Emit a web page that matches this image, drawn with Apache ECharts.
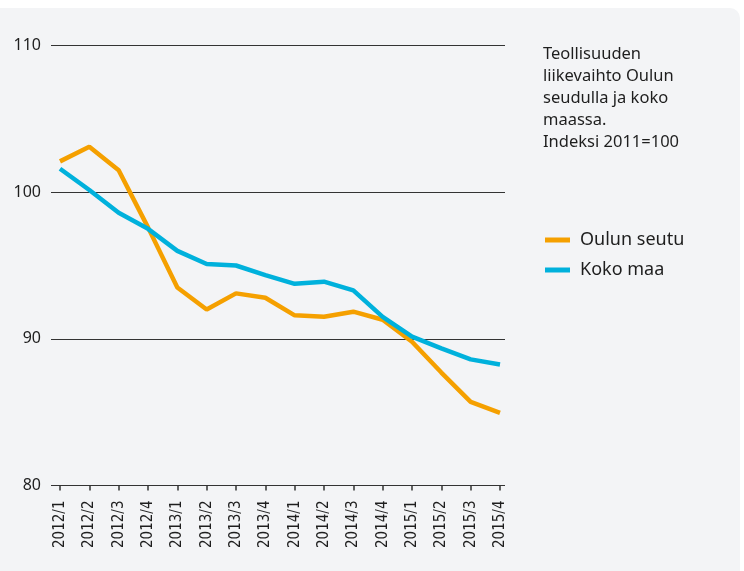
<!DOCTYPE html>
<html>
<head>
<meta charset="utf-8">
<script src="https://cdn.jsdelivr.net/npm/echarts@6/dist/echarts.min.js"></script>
<style>
  html, body { margin: 0; padding: 0; background: #fff; }
  #panel {
    position: absolute; left: 0; top: 8px; width: 740px; height: 563px;
    background: #f3f4f6; border-top-right-radius: 10px;
  }
  #chart { width: 740px; height: 563px; }
</style>
</head>
<body>
<div id="panel"><div id="chart"></div></div>
<script>
// neljännekset
const quarters = ['2012/1', '2012/2', '2012/3', '2012/4', '2013/1', '2013/2', '2013/3', '2013/4',
                  '2014/1', '2014/2', '2014/3', '2014/4', '2015/1', '2015/2', '2015/3', '2015/4'];

// Indeksi 2011=100
const oulunSeutu = [102.1, 103.1, 101.5, 97.6, 93.5, 92.0, 93.1, 92.8,
                    91.6, 91.5, 91.85, 91.3, 89.8, 87.7, 85.7, 84.95];
const kokoMaa = [101.6, 100.15, 98.6, 97.5, 96.0, 95.1, 95.0, 94.35,
                 93.75, 93.9, 93.3, 91.5, 90.15, 89.35, 88.6, 88.25];

const yTicks = [80, 90, 100, 110];

const titleText = 'Teollisuuden\nliikevaihto Oulun\nseudulla ja koko\nmaassa.\nIndeksi 2011=100';

const chart = echarts.init(document.getElementById('chart'));

const textColor = '#1e1e1e';
const lineColor = '#333';

chart.setOption({
  animation: false,
  title: {
    text: titleText,
    left: 543,
    top: 35,
    padding: 0,
    textStyle: {
      fontFamily: 'Noto Sans',
      fontSize: 16.5,
      fontWeight: 'normal',
      color: textColor,
      lineHeight: 22
    }
  },
  legend: {
    orient: 'vertical',
    left: 545,
    top: 223,
    padding: 0,
    icon: 'rect',
    itemWidth: 25,
    itemHeight: 5,
    itemGap: 12,
    textStyle: { fontFamily: 'Noto Sans', fontSize: 18, color: textColor, padding: [0, 0, 0, 5] },
    data: ['Oulun seutu', 'Koko maa']
  },
  // grid 0: vaakaviivat, grid 1: data
  grid: [
    { left: 51, top: 37.5, width: 454, height: 440 },
    { left: 60, top: 37.5, width: 440, height: 440 }
  ],
  xAxis: [
    {
      gridIndex: 0,
      type: 'value',
      min: 0,
      max: 1,
      axisLine: { show: false },
      axisTick: { show: false },
      axisLabel: { show: false },
      splitLine: { show: false }
    },
    {
      gridIndex: 1,
      type: 'category',
      data: quarters,
      boundaryGap: false,
      axisLine: { show: false },
      axisTick: { show: true, length: 5, lineStyle: { color: lineColor, width: 1.5 } },
      axisLabel: {
        rotate: 90,
        margin: 15,
        interval: 0,
        fontFamily: 'DejaVu Sans Condensed',
        fontSize: 15,
        color: textColor
      }
    }
  ],
  yAxis: [
    {
      gridIndex: 0,
      type: 'value',
      min: yTicks[0],
      max: yTicks[yTicks.length - 1],
      interval: 10,
      axisLine: { show: false },
      axisTick: { show: false },
      axisLabel: {
        margin: 10,
        fontFamily: 'Noto Sans',
        fontSize: 16,
        color: textColor
      },
      splitLine: { lineStyle: { color: lineColor, width: 1 } }
    },
    {
      gridIndex: 1,
      type: 'value',
      min: yTicks[0],
      max: yTicks[yTicks.length - 1],
      show: false
    }
  ],
  series: [
    {
      name: 'Oulun seutu',
      type: 'line',
      xAxisIndex: 1,
      yAxisIndex: 1,
      data: oulunSeutu,
      symbol: 'none',
      color: '#f5a000',
      lineStyle: { width: 4.5, color: '#f5a000' }
    },
    {
      name: 'Koko maa',
      type: 'line',
      xAxisIndex: 1,
      yAxisIndex: 1,
      data: kokoMaa,
      symbol: 'none',
      color: '#00b1dc',
      lineStyle: { width: 4.5, color: '#00b1dc' }
    }
  ]
});
</script>
</body>
</html>
